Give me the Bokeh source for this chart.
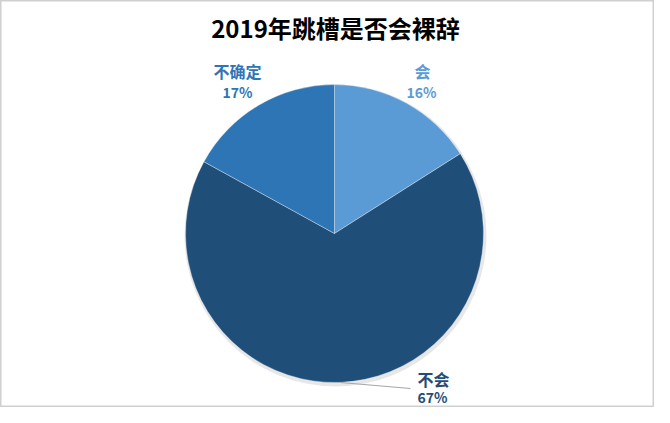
import math
from bokeh.plotting import figure
from bokeh.models import ColumnDataSource, Range1d
from bokeh.core.properties import value
from bokeh.embed import file_html
from bokeh.resources import INLINE

title = "2019年跳槽是否会裸辞"
categories = ["会", "不会", "不确定"]
values = [16, 67, 17]
pct_labels = ["16%", "67%", "17%"]
colors = ["#5B9BD5", "#1F4E79", "#2E75B6"]
label_colors = ["#5B9BD5", "#1F4E79", "#2E75B6"]

W, H = 654, 407
p = figure(width=W, height=H, output_backend="svg", toolbar_location=None,
           x_range=Range1d(0, W), y_range=Range1d(0, H), min_border=0)
p.axis.visible = False
p.grid.visible = False
p.background_fill_color = "white"
p.border_fill_color = "white"
p.outline_line_color = "#d0d0d0"
p.outline_line_width = 2

def Y(page_y):
    return H - page_y

def X(page_x):
    return page_x

cx, cy, r = X(334), Y(233), 149

total = sum(values)
starts, ends = [], []
cum = 0
for v in values:
    starts.append(math.pi / 2 - 2 * math.pi * cum / total)
    cum += v
    ends.append(math.pi / 2 - 2 * math.pi * cum / total)

src = ColumnDataSource(dict(cat=categories, val=values, start=starts, end=ends, color=colors))

# soft shadow
p.circle(x=[cx + 1], y=[cy - 2], radius=r + 2, fill_color="#cfcfcf", fill_alpha=0.5, line_color=None)
p.wedge(x=cx, y=cy, radius=r, start_angle="start", end_angle="end", direction="clock",
        fill_color="color", line_color="#ffffff", line_alpha=0.35, line_width=1, source=src)

# leader line for 不会
p.line(x=[X(340), X(410)], y=[Y(382), Y(388)], line_color="#a6a6a6", line_width=1)

# labels
name_pos = [(422, 70), (433, 378), (237, 70)]
pct_pos = [(421, 91), (432, 396), (237, 91)]
lsrc = ColumnDataSource(dict(
    x=[X(a) for a, b in name_pos], y=[Y(b) for a, b in name_pos],
    x2=[X(a) for a, b in pct_pos], y2=[Y(b) for a, b in pct_pos],
    name=categories, pct=pct_labels, color=label_colors))
p.text(x="x", y="y", text="name", text_color="color", source=lsrc,
       text_font=value("Noto Sans CJK SC"), text_font_style="bold", text_font_size="16px",
       text_align="center", text_baseline="middle")
p.text(x="x2", y="y2", text="pct", text_color="color", source=lsrc,
       text_font=value("Noto Sans CJK SC"), text_font_style="bold", text_font_size="14px",
       text_align="center", text_baseline="middle")

p.text(x=[X(335)], y=[Y(27)], text=[title], text_color="#000000",
       text_font=value("Noto Sans CJK SC"), text_font_style="bold", text_font_size="24px",
       text_align="center", text_baseline="middle")

open("out.html", "w").write(file_html(p, INLINE))
